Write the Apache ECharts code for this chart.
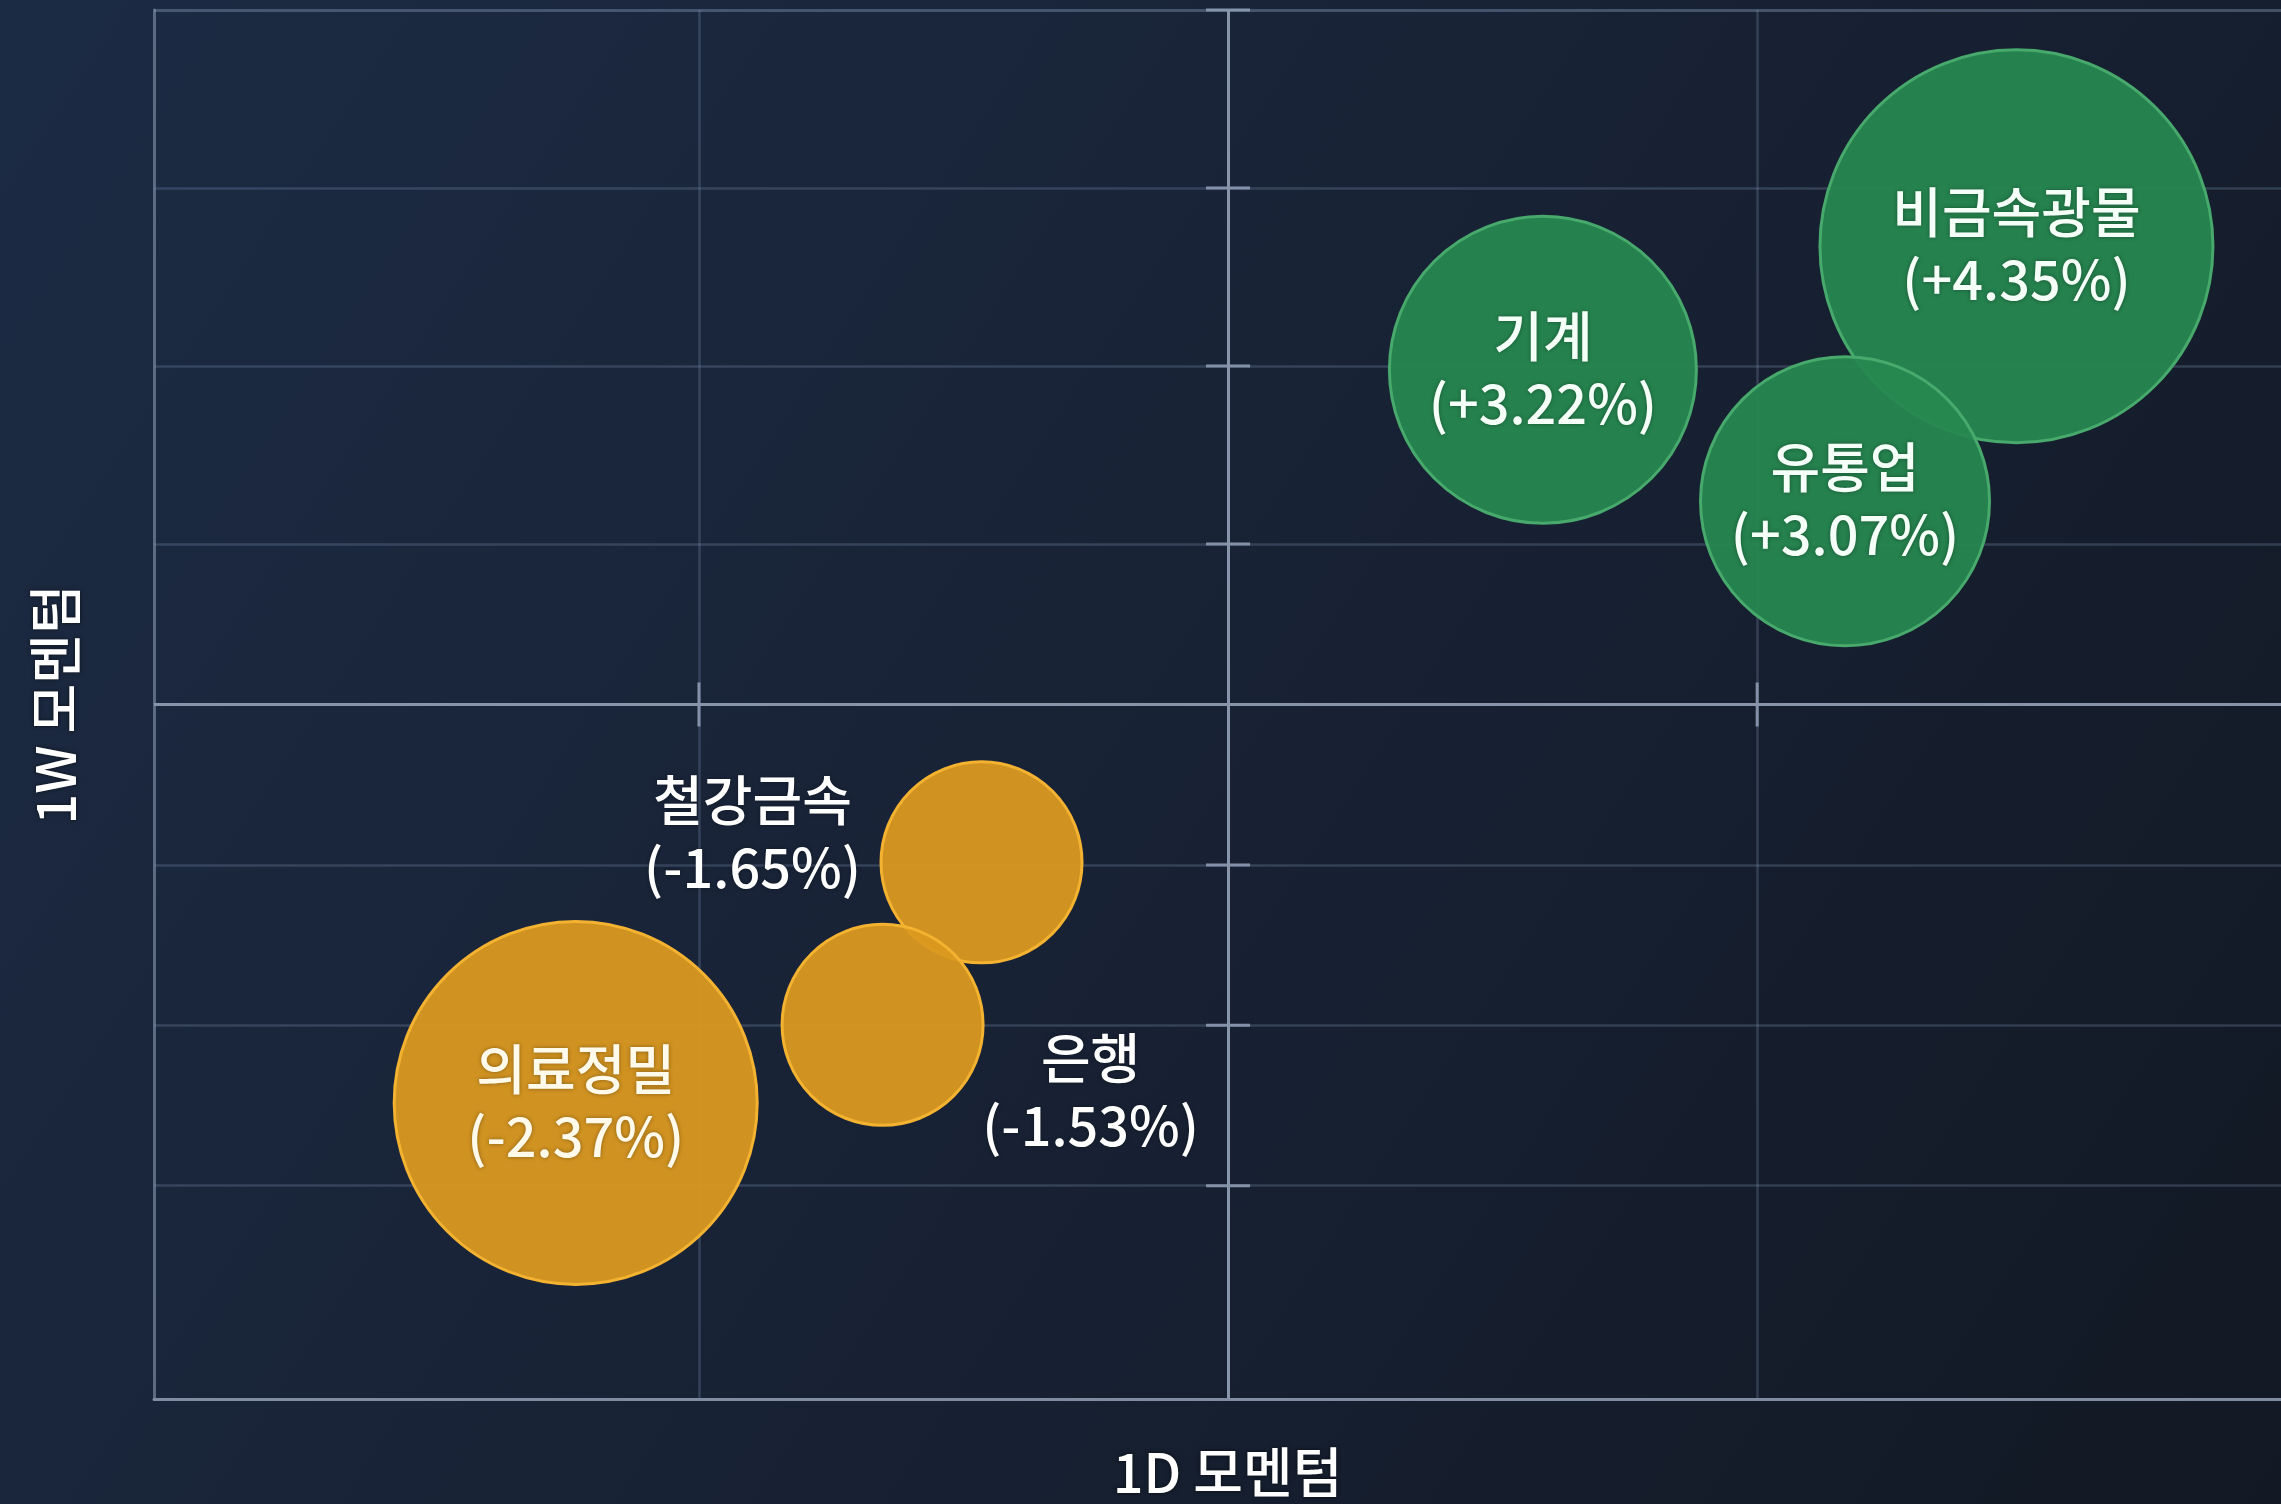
<!DOCTYPE html>
<html>
<head>
<meta charset="utf-8">
<script src="https://cdn.jsdelivr.net/npm/echarts@6/dist/echarts.min.js"></script>
<style>
  html, body { margin: 0; padding: 0; background: #161f2e; }
  #chart { width: 2281px; height: 1504px; }
</style>
</head>
<body>
<div id="chart"></div>
<script>
// ---------------- data ----------------
const sectors      = ['비금속광물', '기계', '유통업', '철강금속', '은행', '의료정밀'];
const momentum1D   = [1.490, 0.595, 1.166, -0.466, -0.653, -1.233];   // x
const momentum1W   = [2.857, 2.087, 1.267, -0.984, -1.997, -2.484];   // y
const dailyReturn  = [4.35, 3.22, 3.07, -1.65, -1.53, -2.37];        // label value (%)
const bubbleWeight = [3.93, 3.07, 2.89, 2.01, 2.01, 3.63];           // bubble size dimension

const xMin = -2.03, xMax = 1.99;
const yMin = -4.33, yMax = 4.33;
const xGridValues = [-1, 1];
const yGridValues = [3.22, 2.11, 1, -1, -2, -3];
const xTickValues = [-1, 1];
const yTickValues = [4.33, 3.22, 2.11, 1, -1, -2, -3];

// ---------------- styling ----------------
const FONT = '"Noto Sans CJK KR", "Noto Sans", sans-serif';
const SIZE_SCALE = 100;
const GREEN = { fill: 'rgba(38,136,80,0.94)', border: '#48a96c', text: '#f4fff7' };
const ORANGE = { fill: 'rgba(218,153,32,0.95)', border: '#f4b231', text: '#fffaea' };
const GRID_COLOR = 'rgba(120,140,170,0.30)';
const AXIS_COLOR = '#8794a9';

const outsideLabels = {
  '철강금속': { position: 'left', distance: 127, align: 'center', offset: [0, -28], color: '#ffffff' },
  '은행':     { position: 'right', distance: 106, align: 'center', offset: [0, 67], color: '#ffffff' }
};

const bubbleData = sectors.map((name, i) => {
  const c = dailyReturn[i] >= 0 ? GREEN : ORANGE;
  const item = {
    name: name,
    value: [momentum1D[i], momentum1W[i], bubbleWeight[i], dailyReturn[i]],
    itemStyle: { color: c.fill, borderColor: c.border, borderWidth: 3, opacity: 1 },
    label: { color: c.text }
  };
  if (outsideLabels[name]) item.label = Object.assign({}, outsideLabels[name]);
  return item;
});

const fmtRet = v => '(' + (v > 0 ? '+' : '') + v.toFixed(2) + '%)';

const option = {
  animation: false,
  backgroundColor: {
    type: 'linear', x: 0, y: 0, x2: 1, y2: 1,
    colorStops: [
      { offset: 0, color: '#1c2b44' },
      { offset: 0.5, color: '#182235' },
      { offset: 1, color: '#121924' }
    ]
  },
  grid: { left: 154, right: 0, top: 10, bottom: 98 },
  xAxis: {
    type: 'value', min: xMin, max: xMax,
    axisLine: { show: true, onZero: false, lineStyle: { color: '#7f8ca1', width: 3 } },
    axisTick: { show: false }, axisLabel: { show: false }, splitLine: { show: false },
    name: '1D 모멘텀', nameLocation: 'middle', nameGap: 46,
    nameTextStyle: { color: '#ffffff', fontSize: 54, fontWeight: 500, fontFamily: FONT,
      padding: [0, 0, 0, 20], textShadowColor: 'rgba(0,0,0,0.6)', textShadowBlur: 4 }
  },
  yAxis: {
    type: 'value', min: yMin, max: yMax,
    axisLine: { show: true, onZero: false, lineStyle: { color: '#5c6b82', width: 3 } },
    axisTick: { show: false }, axisLabel: { show: false }, splitLine: { show: false },
    name: '1W 모멘텀', nameLocation: 'middle', nameGap: 72,
    nameTextStyle: { color: '#ffffff', fontSize: 54, fontWeight: 500, fontFamily: FONT,
      textShadowColor: 'rgba(0,0,0,0.6)', textShadowBlur: 4 }
  },
  series: [
    {
      // grid lines
      type: 'scatter', data: [], silent: true, z: 1,
      markLine: {
        silent: true, symbol: 'none', animation: false,
        label: { show: false },
        emphasis: { disabled: true },
        lineStyle: { color: GRID_COLOR, width: 2.5, type: 'solid' },
        data: [
          ...xGridValues.map(v => ({ xAxis: v })),
          ...yGridValues.map(v => ({ yAxis: v })),
          { yAxis: yMax, lineStyle: { color: 'rgba(130,150,180,0.42)', width: 3, type: 'solid' } },
          { xAxis: 0, lineStyle: { color: AXIS_COLOR, width: 3, type: 'solid' } },
          { yAxis: 0, lineStyle: { color: AXIS_COLOR, width: 3, type: 'solid' } }
        ]
      }
    },
    {
      // tick marks on the zero axes
      type: 'scatter', silent: true, z: 2,
      symbol: 'rect',
      itemStyle: { color: AXIS_COLOR, opacity: 1 },
      emphasis: { disabled: true },
      data: [
        ...xTickValues.map(v => ({ value: [v, 0], symbolSize: [3, 44] })),
        ...yTickValues.map(v => ({ value: [0, v], symbolSize: [44, 3] }))
      ]
    },
    {
      type: 'scatter', z: 5,
      data: bubbleData,
      symbolSize: v => v[2] * SIZE_SCALE,
      emphasis: { disabled: true },
      label: {
        show: true,
        position: 'inside',
        fontFamily: FONT, fontSize: 54, fontWeight: 500, lineHeight: 67,
        textShadowColor: 'rgba(0,0,0,0.35)', textShadowBlur: 4,
        formatter: p => p.name + '\n' + fmtRet(p.value[3])
      }
    }
  ]
};

const chart = echarts.init(document.getElementById('chart'));
chart.setOption(option);
</script>
</body>
</html>
